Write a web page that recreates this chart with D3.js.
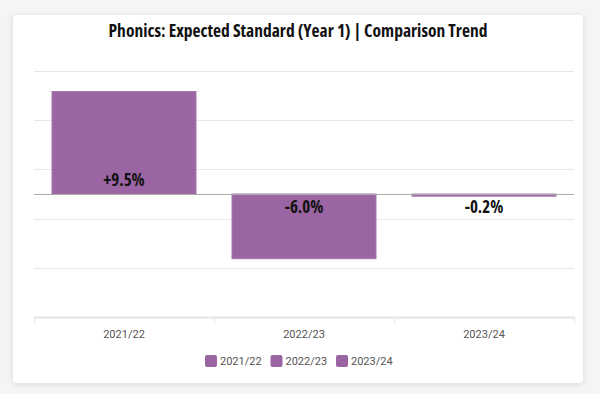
<!DOCTYPE html>
<html>
<head>
<meta charset="utf-8">
<script src="https://cdn.jsdelivr.net/npm/d3@7"></script>
<style>
  body { margin: 0; background: #f4f5f7; }
  .cond { font-family: "Open Sans", sans-serif; font-stretch: 75%; font-weight: 700; }
</style>
</head>
<body>
<div id="chart"></div>
<script>
// Chart data
var categories = ["2021/22", "2022/23", "2023/24"];
var changes = [9.5, -6.0, -0.2];
var labels = ["+9.5%", "-6.0%", "-0.2%"];
var yRange = [-11.4, 11.4];

// Dimensions
var svgWidth = 600;
var svgHeight = 394;
var margin = { top: 71, right: 26, bottom: 77, left: 34 };
var width = svgWidth - margin.left - margin.right;
var height = svgHeight - margin.top - margin.bottom;

var barColor = "#9b64a3";

var svg = d3.select("#chart")
    .append("svg")
    .attr("width", svgWidth)
    .attr("height", svgHeight);

// Card background with soft shadow
var defs = svg.append("defs");
var filter = defs.append("filter").attr("id", "shadow")
    .attr("x", "-5%").attr("y", "-5%").attr("width", "110%").attr("height", "110%");
filter.append("feDropShadow")
    .attr("dx", 0).attr("dy", 1).attr("stdDeviation", 3)
    .attr("flood-color", "#000").attr("flood-opacity", 0.12);

svg.append("rect")
    .attr("x", 13).attr("y", 15)
    .attr("width", 570).attr("height", 368)
    .attr("rx", 4)
    .attr("fill", "#fff")
    .attr("filter", "url(#shadow)");

// Title
svg.append("text")
    .attr("class", "cond")
    .attr("x", 298)
    .attr("y", 37)
    .attr("text-anchor", "middle")
    .style("font-size", "17.5px")
    .style("fill", "#111")
    .text("Phonics: Expected Standard (Year 1) | Comparison Trend");

var chartGroup = svg.append("g")
    .attr("transform", `translate(${margin.left}, ${margin.top})`);

// Scales
var xBandScale = d3.scaleBand()
    .domain(categories)
    .range([0, width])
    .paddingInner(0.2)
    .paddingOuter(0.1);

var yLinearScale = d3.scaleLinear()
    .domain(yRange)
    .range([height, 0]);

var gridTicks = d3.range(6).map(i => yRange[0] + i * (yRange[1] - yRange[0]) / 5);

// Gridlines
chartGroup.append("g")
    .selectAll("line")
    .data(gridTicks.slice(1))
    .enter()
    .append("line")
    .attr("x1", 0)
    .attr("x2", width)
    .attr("y1", d => Math.round(yLinearScale(d)) + 0.5)
    .attr("y2", d => Math.round(yLinearScale(d)) + 0.5)
    .attr("stroke", "#e8e8e8")
    .attr("stroke-width", 1);

// X axis
var bottomAxis = d3.axisBottom(xBandScale).tickSize(0).tickPadding(13);
var xAxis = chartGroup.append("g")
    .attr("transform", `translate(0, ${height})`)
    .call(bottomAxis);
xAxis.select(".domain").attr("stroke", "#e4e4e4").attr("stroke-width", 2);
xAxis.selectAll("text")
    .style("font-family", "Roboto, sans-serif")
    .style("font-size", "11px")
    .style("fill", "#555");

// Category separators
var step = width / categories.length;
chartGroup.append("g")
    .selectAll("line")
    .data(d3.range(categories.length + 1))
    .enter()
    .append("line")
    .attr("x1", d => Math.round(d * step) + 0.5)
    .attr("x2", d => Math.round(d * step) + 0.5)
    .attr("y1", height)
    .attr("y2", height + 6)
    .attr("stroke", "#e4e4e4");

// Bars
chartGroup.selectAll(".bar")
    .data(changes)
    .enter()
    .append("rect")
    .attr("class", "bar")
    .attr("x", (d, i) => xBandScale(categories[i]))
    .attr("width", xBandScale.bandwidth())
    .attr("y", d => yLinearScale(Math.max(0, d)))
    .attr("height", d => Math.abs(yLinearScale(d) - yLinearScale(0)))
    .attr("fill", barColor)
    .attr("stroke", "#a678ad")
    .attr("stroke-width", 1);

// Zero line
chartGroup.append("line")
    .attr("x1", 0)
    .attr("x2", width)
    .attr("y1", Math.round(yLinearScale(0)) + 0.5)
    .attr("y2", Math.round(yLinearScale(0)) + 0.5)
    .attr("stroke", "#aaa")
    .attr("stroke-width", 1.2);

// Value labels
chartGroup.selectAll(".value")
    .data(changes)
    .enter()
    .append("text")
    .attr("class", "cond")
    .attr("x", (d, i) => xBandScale(categories[i]) + xBandScale.bandwidth() / 2)
    .attr("y", d => yLinearScale(0) + (d >= 0 ? -14 : 13))
    .attr("dy", "0.35em")
    .attr("text-anchor", "middle")
    .style("font-size", "17px")
    .style("fill", "#111")
    .text((d, i) => labels[i]);

// Legend
var legend = svg.append("g")
    .attr("transform", "translate(205, 355)");
var items = legend.selectAll("g")
    .data(categories)
    .enter()
    .append("g")
    .attr("transform", (d, i) => `translate(${i * 65.5}, 0)`);
items.append("rect")
    .attr("width", 12)
    .attr("height", 12)
    .attr("rx", 2)
    .attr("fill", barColor);
items.append("text")
    .attr("x", 15)
    .attr("y", 6)
    .attr("dy", "0.35em")
    .style("font-family", "Roboto, sans-serif")
    .style("font-size", "11px")
    .style("fill", "#555")
    .text(d => d);
</script>
</body>
</html>
